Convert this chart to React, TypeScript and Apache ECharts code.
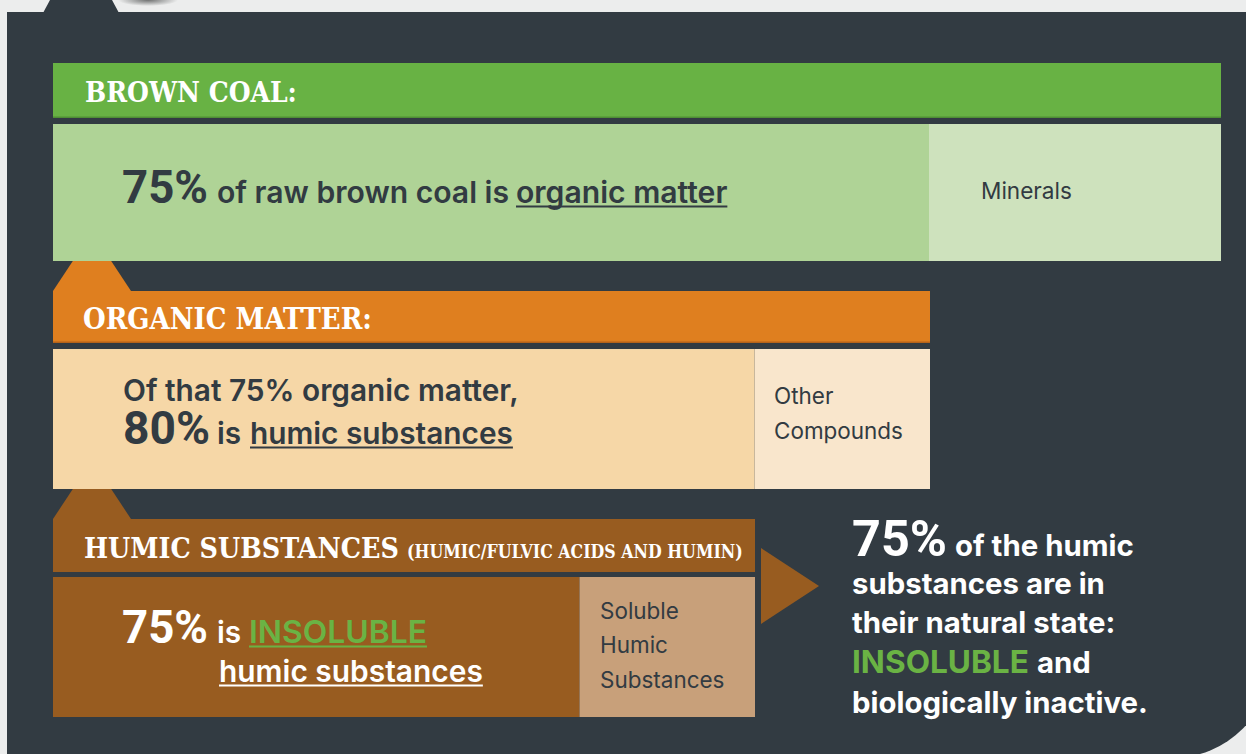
import React, { useEffect, useRef } from 'react';
import * as echarts from 'echarts';

// ---- data ----
const rowNames = ['Brown coal', 'Organic matter', 'Humic substances'];
const brownCoalParts = ['Organic matter', 'Minerals'];
const brownCoalValues = [75, 25];
const organicParts = ['Humic substances', 'Other compounds'];
const organicValues = [80, 20];
const humicParts = ['Insoluble humic substances', 'Soluble humic substances'];
const humicValues = [75, 25];

const rowParts = [brownCoalParts, organicParts, humicParts];
const rowValues = [brownCoalValues, organicValues, humicValues];
const rowColors = [
  ['#AFD396', '#CEE2BD'],
  ['#F6D7A7', '#F9E6CC'],
  ['#985C20', '#C8A07A'],
];

const DARK = '#323B42';
const GREEN = '#6AB344';
const WHITE = '#FFFFFF';

const rows = [
  { left: 53, top: 124, width: 1168, height: 137 },
  { left: 53, top: 349, width: 877, height: 140 },
  { left: 53, top: 577, width: 702, height: 140 },
];

const SERIF = "'DejaVu Serif Condensed', 'DejaVu Serif', serif";
const FACT: Record<string, number> = { Inter: 0.363, Roboto: 0.342, [SERIF]: 0.35 };

export default function App() {
  const ref = useRef<HTMLDivElement>(null);
  useEffect(() => {
    if (!ref.current) return;
    const chart = echarts.init(ref.current, undefined, { renderer: 'svg' });
    const ctx = document.createElement('canvas').getContext('2d')!;
    const fam = (f: string) => (f.includes("'") ? f : `"${f}"`);
    const measure = (t: string, size: number, weight: number, family: string) => {
      ctx.font = `${weight} ${size}px ${fam(family)}`;
      return ctx.measureText(t).width;
    };
    const fit = (t: string, weight: number, family: string, width: number) =>
      (width * 100) / measure(t, 100, weight, family);

    const els: any[] = [];
    // returns x after the text
    const txt = (t: string, x: number, base: number, size: number, weight: number, color: string, family = 'Inter', underline = false) => {
      const w = measure(t, size, weight, family);
      els.push({
        type: 'text', z: 20, x, y: base - FACT[family] * size, silent: true,
        style: {
          text: t, fontSize: size, fontWeight: weight, fontFamily: family, fill: color,
          verticalAlign: 'middle', align: 'left', lineHeight: Math.round(size * 0.8),
        },
      });
      if (underline) {
        els.push({
          type: 'rect', z: 20, silent: true,
          shape: { x, y: base + 2.6, width: w, height: 1.8 },
          style: { fill: color },
        });
      }
      return x + w;
    };
    const sp = (size: number, weight: number) => measure(' ', size, weight, 'Inter');

    // background shapes
    els.push(
      {
        type: 'ellipse', z: 0, silent: true,
        shape: { cx: 148, cy: 0, rx: 30, ry: 6 },
        style: {
          fill: new echarts.graphic.RadialGradient(0.5, 0.5, 0.5, [
            { offset: 0, color: 'rgba(70,72,72,0.75)' },
            { offset: 1, color: 'rgba(70,72,72,0)' },
          ]),
        },
      },
      { type: 'polygon', z: 1, silent: true, shape: { points: [[50, 0], [112, 0], [119, 13], [43, 13]] }, style: { fill: DARK } },
      { type: 'rect', z: 1, silent: true, shape: { x: 7, y: 12, width: 1265, height: 746, r: [0, 0, 100, 0] }, style: { fill: DARK } },
      // headers
      { type: 'rect', z: 3, silent: true, shape: { x: rows[0].left, y: 63, width: rows[0].width, height: 55 }, style: { fill: '#68B244' } },
      { type: 'rect', z: 3, silent: true, shape: { x: rows[0].left, y: 116.5, width: rows[0].width, height: 1.5 }, style: { fill: '#4F8F35' } },
      { type: 'polygon', z: 3, silent: true, shape: { points: [[53, 291], [92, 232], [131, 291]] }, style: { fill: '#DF7F1F' } },
      { type: 'rect', z: 3, silent: true, shape: { x: rows[1].left, y: 291, width: rows[1].width, height: 52 }, style: { fill: '#DF7F1F' } },
      { type: 'rect', z: 3, silent: true, shape: { x: rows[1].left, y: 341.5, width: rows[1].width, height: 1.5 }, style: { fill: '#B5631A' } },
      { type: 'polygon', z: 3, silent: true, shape: { points: [[53, 519], [92, 460], [131, 519]] }, style: { fill: '#985C20' } },
      { type: 'rect', z: 3, silent: true, shape: { x: rows[2].left, y: 519, width: rows[2].width, height: 53 }, style: { fill: '#985C20' } },
      { type: 'polygon', z: 3, silent: true, shape: { points: [[761, 548], [761, 624], [819, 586]] }, style: { fill: '#985C20' } },
    );

    // header texts
    txt('BROWN COAL:', 85, 102, fit('BROWN COAL:', 700, SERIF, 212), 700, WHITE, SERIF);
    txt('ORGANIC MATTER:', 83, 329, fit('ORGANIC MATTER:', 700, SERIF, 289), 700, WHITE, SERIF);
    txt('HUMIC SUBSTANCES', 84, 558, fit('HUMIC SUBSTANCES', 700, SERIF, 315), 700, WHITE, SERIF);
    txt('(HUMIC/FULVIC ACIDS AND HUMIN)', 407, 558, fit('(HUMIC/FULVIC ACIDS AND HUMIN)', 700, SERIF, 336), 700, WHITE, SERIF);

    const BW = 600;
    const NUM = 'Roboto';
    // row 1
    const big1 = fit('75%', 700, NUM, 86);
    const body1 = fit('of raw brown coal is organic matter', BW, 'Inter', 511);
    txt(`${brownCoalValues[0]}%`, 122, 203, big1, 700, DARK, NUM);
    txt('of raw brown coal is', 217, 203, body1, BW, DARK);
    txt('organic matter', 516, 203, body1, BW, DARK, 'Inter', true);
    txt('Minerals', 981, 199, fit('Minerals', 400, 'Inter', 91), 400, DARK);

    // row 2
    const body2 = fit('Of that 75% organic matter,', BW, 'Inter', 396);
    txt(`Of that ${brownCoalValues[0]}% organic matter,`, 123, 401, body2, BW, DARK);
    txt(`${organicValues[0]}%`, 123, 444, fit('80%', 700, NUM, 87), 700, DARK, NUM);
    txt('is', 217, 444, body2, BW, DARK);
    txt('humic substances', 250, 444, body2, BW, DARK, 'Inter', true);
    const small = fit('Compounds', 400, 'Inter', 129);
    txt('Other', 774, 404, small, 400, DARK);
    txt('Compounds', 774, 439, small, 400, DARK);

    // row 3
    txt(`${humicValues[0]}%`, 122, 643, big1, 700, WHITE, NUM);
    txt('is', 217, 643, body2, BW, WHITE);
    txt('INSOLUBLE', 249, 643, fit('INSOLUBLE', BW, 'Inter', 178), BW, GREEN, 'Inter', true);
    txt('humic substances', 219, 682, fit('humic substances', BW, 'Inter', 264), BW, WHITE, 'Inter', true);
    txt('Soluble', 600, 619, small, 400, DARK);
    txt('Humic', 600, 653, small, 400, DARK);
    txt('Substances', 600, 688, small, 400, DARK);

    // right text
    const rb = fit('biologically inactive.', 700, 'Inter', 296);
    txt(`${humicValues[0]}%`, 852, 556, fit('75%', 700, NUM, 95), 700, WHITE, NUM);
    txt('of the humic', 955, 556, rb, 700, WHITE);
    txt('substances are in', 852, 594, rb, 700, WHITE);
    txt('their natural state:', 852, 633, rb, 700, WHITE);
    const x = txt('INSOLUBLE', 852, 673, fit('INSOLUBLE', 700, 'Inter', 177), 700, GREEN);
    txt('and', x + sp(rb, 700) + 1, 673, rb, 700, WHITE);
    txt('biologically inactive.', 852, 713, rb, 700, WHITE);

    const series: any[] = [];
    rowValues.forEach((vals, i) => {
      vals.forEach((v, j) => {
        series.push({
          type: 'bar', name: rowParts[i][j], xAxisIndex: i, yAxisIndex: i, stack: 'row' + i,
          data: [v], barWidth: '100%', silent: true, z: 5,
          itemStyle: { color: rowColors[i][j] },
        });
      });
    });

    chart.setOption({
      animation: false,
      backgroundColor: '#ECEDED',
      grid: rows.map((r) => ({ left: r.left, top: r.top, width: r.width, height: r.height, containLabel: false })),
      xAxis: rows.map((_, i) => ({ type: 'value', gridIndex: i, min: 0, max: 100, show: false })),
      yAxis: rows.map((_, i) => ({ type: 'category', gridIndex: i, data: [rowNames[i]], show: false })),
      series,
      graphic: { elements: els },
    });
    return () => chart.dispose();
  }, []);
  return <div ref={ref} style={{ position: 'absolute', left: 0, top: 0, width: 1246, height: 754 }} />;
}
